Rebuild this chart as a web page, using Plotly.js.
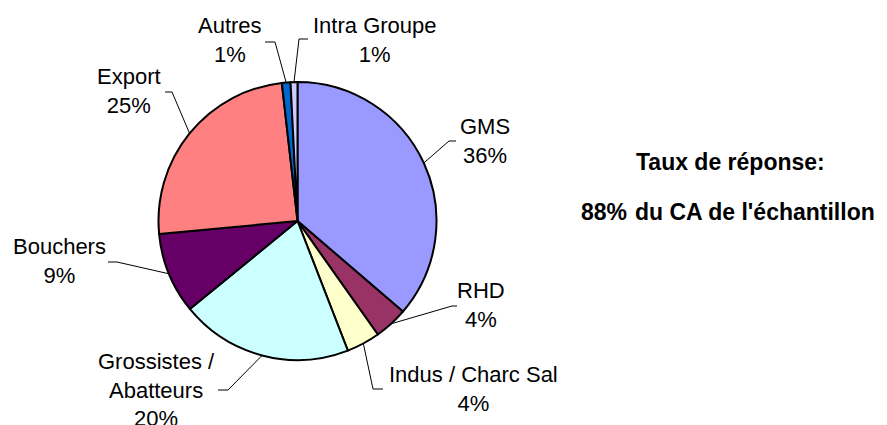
<!DOCTYPE html>
<html><head><meta charset="utf-8">
<script src="https://cdn.plot.ly/plotly-3.0.1.min.js"></script>
<style>html,body{margin:0;padding:0;background:#fff}#chart{width:887px;height:425px}</style>
</head><body><div id="chart"></div>
<script>
// ---- data ----
const categories = ["GMS", "RHD", "Indus / Charc Sal", "Grossistes /<br>Abatteurs", "Bouchers", "Export", "Autres", "Intra Groupe"];
const shares = [36.3, 3.9, 3.9, 20.0, 9.4, 24.7, 1.0, 0.8];
const sliceColors = ["#9999FF", "#993366", "#FFFFCC", "#CCFFFF", "#660066", "#FF8080", "#0066CC", "#CCCCFF"];

// ---- label placement (pixels) ----
const labelX = [485, 481, 473, 156, 59, 129, 230, 375];
const labelY = [141, 305, 389, 390, 261, 91, 40, 40];
const elbowX = [449, 452, 373, 228, 117, 172, 275, 299];
const elbowY = [141, 306, 389, 390, 262, 92, 42, 39];
const tailX  = [456, 457, 383, 218, 108, 165, 265, 308];

const W = 887, H = 425;
const cx = 297.5, cy = 221, R = 139;
const px = x => x / W, py = y => 1 - y / H;

const total = shares.reduce((a, b) => a + b, 0);
let cum = 0;
const shapes = [], annotations = [];
shares.forEach((v, i) => {
  const mid = (cum + v / 2) / total * 2 * Math.PI;
  cum += v;
  const sx = cx + R * Math.sin(mid), sy = cy - R * Math.cos(mid);
  shapes.push({
    type: "path", xref: "paper", yref: "paper",
    path: `M ${px(sx)} ${py(sy)} L ${px(elbowX[i])} ${py(elbowY[i])} L ${px(tailX[i])} ${py(elbowY[i])}`,
    line: {color: "#000", width: 1}
  });
  annotations.push({
    xref: "paper", yref: "paper", x: px(labelX[i]), y: py(labelY[i]),
    xanchor: "center", yanchor: "middle", showarrow: false, align: "center",
    text: categories[i] + "<br>" + Math.round(v / total * 100) + "%",
    font: {family: "Liberation Sans, Arial, sans-serif", size: 22, color: "#000"}
  });
});

annotations.push({
  xref: "paper", yref: "paper", x: px(730), y: py(162), xanchor: "center", yanchor: "middle",
  showarrow: false, text: "<b>Taux de réponse:</b>",
  font: {family: "Liberation Sans, Arial, sans-serif", size: 23, color: "#000"}
});
annotations.push({
  xref: "paper", yref: "paper", x: px(604), y: py(212), xanchor: "center", yanchor: "middle",
  showarrow: false, text: "<b>88%</b>",
  font: {family: "Liberation Sans, Arial, sans-serif", size: 23, color: "#000"}
});
annotations.push({
  xref: "paper", yref: "paper", x: px(633), y: py(212), xanchor: "left", yanchor: "middle",
  showarrow: false, text: "<b>du CA de l'échantillon</b>",
  font: {family: "Liberation Sans, Arial, sans-serif", size: 23, color: "#000"}
});

const trace = {
  type: "pie",
  labels: categories,
  values: shares,
  sort: false,
  direction: "clockwise",
  rotation: 0,
  textinfo: "none",
  hoverinfo: "label+percent",
  marker: {colors: sliceColors, line: {color: "#000", width: 2}},
  domain: {x: [px(cx - R), px(cx + R)], y: [py(cy + R), py(cy - R)]}
};

Plotly.newPlot("chart", [trace], {
  width: W, height: H,
  margin: {l: 0, r: 0, t: 0, b: 0},
  showlegend: false,
  paper_bgcolor: "#fff",
  shapes: shapes,
  annotations: annotations
}, {displayModeBar: false, staticPlot: true});
</script>
</body></html>
